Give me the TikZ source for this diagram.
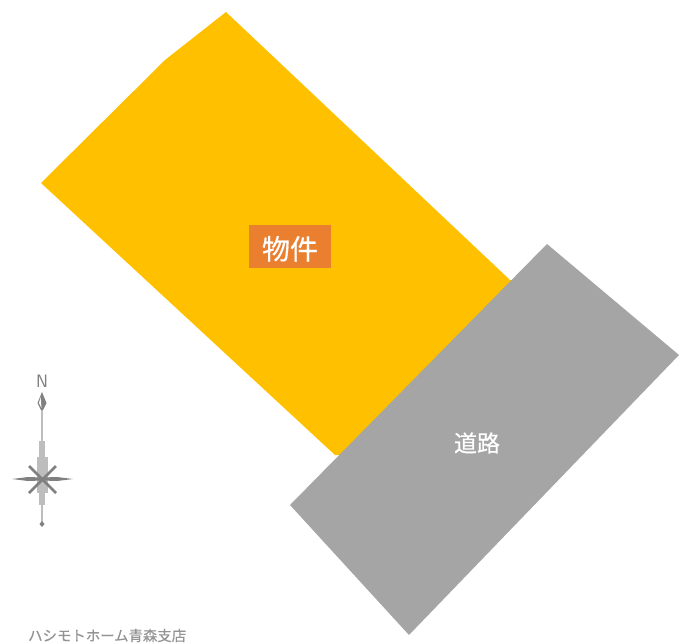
\documentclass[tikz,border=0pt]{standalone}
\usepackage{fontspec}
\usepackage{tikz}
\usetikzlibrary{positioning}
\newfontfamily\cjk[FakeBold=0.5]{Noto Sans CJK JP}
\definecolor{lotcolor}{HTML}{FFC000}
\definecolor{roadcolor}{HTML}{A5A5A5}
\definecolor{tagcolor}{HTML}{EA7F30}
\definecolor{needlecolor}{HTML}{808080}
\definecolor{barcolor}{HTML}{BDBDBD}
\tikzstyle{lotlabel} = [fill=tagcolor, text=white, minimum height=43pt, minimum width=82pt,
    inner sep=0pt, text depth=0pt, font=\cjk\fontsize{28}{28}\selectfont]
\tikzstyle{roadlabel} = [text=white, inner sep=0pt, font=\cjk\fontsize{23}{23}\selectfont]
\tikzstyle{footer} = [text=gray!85, inner sep=0pt, anchor=west, font=\cjk\fontsize{14.4}{15}\selectfont]
\tikzstyle{northmark} = [text=needlecolor, inner sep=0pt, font=\sffamily\fontsize{18}{18}\selectfont]

\begin{document}
\begin{tikzpicture}[x=1pt, y=-1pt]
     \useasboundingbox (0,0) rectangle (679,642);
     % lot and road
     \fill [lotcolor] (226,12) -- (165,60) -- (41,183) -- (335,455) -- (345,455) -- (520,280) -- (510,280) -- cycle;
     \fill [roadcolor] (547,244) -- (679,355) -- (409,635) -- (290,505) -- cycle;
     \node [lotlabel] (lot) at (290,246.5) {\raisebox{-2.5pt}{物件}};
     \node [roadlabel] (road) at (477,443) {道路};

     % compass
     \fill [barcolor] (41,410) rectangle (43,525);
     \fill [barcolor] (39,441) rectangle (45,505);
     \fill [barcolor] (37,457) rectangle (48,493);
     \fill [needlecolor] (12,479) -- (28,477) -- (42,477.5) -- (57,477) -- (73,479)
          -- (57,481) -- (42,480.5) -- (28,481) -- cycle;
     \draw [needlecolor, line width=2.6pt] (29,466) -- (56,493);
     \draw [needlecolor, line width=2.6pt] (56,466) -- (29,493);
     \fill [needlecolor] (42,392) -- (46.5,403) -- (43,410) -- (41,410) -- (37.5,403) -- cycle;
     \fill [white] (40.5,397) -- (39,403) -- (41.5,408) -- cycle;
     \fill [needlecolor] (42,521) -- (44.5,524) -- (42,527) -- (39.5,524) -- cycle;
     \node [northmark] (north) at (42,381) {N};

     \node [footer] (branch) at (28,635.5) {ハシモトホーム青森支店};
\end{tikzpicture}
\end{document}
